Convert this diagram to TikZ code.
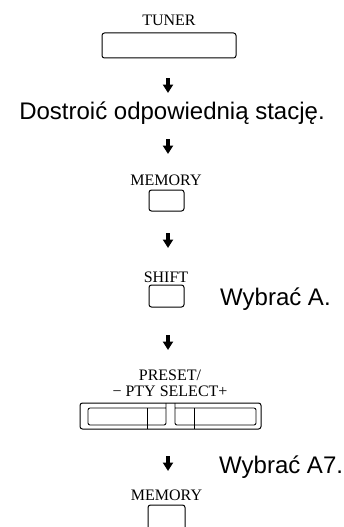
\documentclass[tikz,border=0pt]{standalone}
\usepackage{fontspec}
\setmainfont{Liberation Serif}
\newfontfamily\helv{Liberation Sans}
\usetikzlibrary{arrows.meta,positioning}
\tikzset{
  key/.style={draw, rounded corners=2.5pt, line width=1pt, inner sep=0pt},
  lbl/.style={font=\fontsize{16}{18}\selectfont, inner sep=0pt, anchor=base},
  msg/.style={font=\helv\fontsize{24}{28}\selectfont, inner sep=0pt, anchor=base},
  flow/.style={line width=3.4pt, -{Triangle[width=10pt,length=8.5pt]}},
  part/.style={line width=0.85pt},
}

\begin{document}
\begin{tikzpicture}[x=1pt, y=-1pt]
  \useasboundingbox (0,0) rectangle (343,527);
  \clip (0,0) rectangle (343,527);
  % tuner
  \node[lbl] (tunerlbl) at (169,26) {TUNER};
  \node[key, minimum width=134pt, minimum height=25pt] (tuner) at (169,45.5) {};
  \node[msg] (tune) at (172,119) {Dostroić odpowiednią stację.};
  % first memory
  \node[lbl] (mem1lbl) at (166,185) {MEMORY};
  \node[key, minimum width=35pt, minimum height=21pt] (mem1) at (166.5,200.5) {};
  % shift
  \node[lbl] (shiftlbl) at (166,282) {SHIFT};
  \node[key, minimum width=35pt, minimum height=22pt] (shift) at (166.5,296) {};
  \node[msg, anchor=base west] (pickA) at (220,305) {Wybrać A.};
  % preset keys
  \node[lbl] (presetlbl) at (170,380) {PRESET/};
  \node[lbl] (ptylbl) at (170,396) {− PTY SELECT+};
  \node[key, minimum width=181pt, minimum height=26pt] (preset) at (170.5,416) {};
  \draw[part, rounded corners=2pt] (166,403) -- (166,425) -- (88,425) -- (88,408) -- (166,408);
  \draw[part, rounded corners=2pt] (175,403) -- (175,425) -- (256,425) -- (256,408) -- (175,408);
  \draw[part] (147,408) -- (147,429);
  \draw[part] (194,408) -- (194,429);
  \node[msg, anchor=base west] (pickA7) at (219,473) {Wybrać A7.};
  % second memory
  \node[lbl] (mem2lbl) at (166.5,500) {MEMORY};
  \node[key, minimum width=37pt, minimum height=30pt] (mem2) at (166.5,520) {};
  % arrows
  \coordinate (a1s) at (168,78);  \coordinate (a1e) at (168,93);
  \coordinate (a2s) at (168,139); \coordinate (a2e) at (168,154);
  \coordinate (a3s) at (168,233); \coordinate (a3e) at (168,248);
  \coordinate (a4s) at (168,335); \coordinate (a4e) at (168,350);
  \coordinate (a5s) at (168,456); \coordinate (a5e) at (168,471);
  \draw[flow] (a1s) -- (a1e);
  \draw[flow] (a2s) -- (a2e);
  \draw[flow] (a3s) -- (a3e);
  \draw[flow] (a4s) -- (a4e);
  \draw[flow] (a5s) -- (a5e);
\end{tikzpicture}
\end{document}
